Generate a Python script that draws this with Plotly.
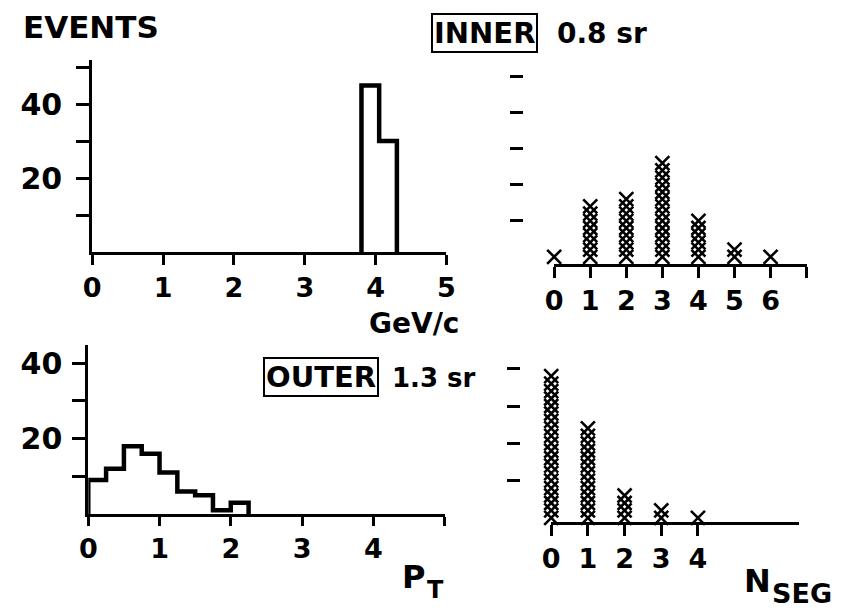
import plotly.graph_objects as go

# ---- data -------------------------------------------------------------
# transverse-momentum histograms (events per 0.25 GeV/c bin)
inner_pt_edges = [3.8, 4.05, 4.3]
inner_pt_counts = [45, 30]
outer_pt_edges = [0.0, 0.25, 0.5, 0.75, 1.0, 1.25, 1.5, 1.75, 2.0, 2.25]
outer_pt_counts = [9, 12, 18, 16, 11, 6, 5, 1, 3]

# segment-multiplicity distributions: number of crosses stacked per N_SEG
inner_nseg = [0, 1, 2, 3, 4, 5, 6]
inner_nseg_crosses = [1, 8, 9, 14, 6, 2, 1]
outer_nseg = [0, 1, 2, 3, 4]
outer_nseg_crosses = [20, 13, 4, 2, 1]

pt_ticks = [1, 2, 3, 4, 5]
event_ticks = [10, 20, 30, 40, 50]
event_ticktext = ["", "20", "", "40", ""]

W, H = 846, 616
FONT = "DejaVu Sans"
INK = "black"


def px(x):
    return x / W


def py(y):
    return 1 - y / H


def bold(s):
    return "<b>" + s + "</b>"


def step_outline(edges, counts):
    xs = [edges[0]] + list(edges[:-1]) + [edges[-1]]
    ys = [0] + list(counts) + [0]
    return xs, ys


def cross_stack(cols, n_crosses):
    xs, ys = [], []
    for c, n in zip(cols, n_crosses):
        for k in range(n):
            xs.append(c)
            ys.append(k)
    return xs, ys


fig = go.Figure()

# histograms
for edges, counts, ax in [(inner_pt_edges, inner_pt_counts, ("x", "y")),
                          (outer_pt_edges, outer_pt_counts, ("x2", "y2"))]:
    hx, hy = step_outline(edges, counts)
    fig.add_trace(go.Scatter(x=hx, y=hy, mode="lines", line_shape="hv",
                             line=dict(color=INK, width=4.5),
                             xaxis=ax[0], yaxis=ax[1], cliponaxis=False,
                             showlegend=False, hoverinfo="skip"))

# cross stacks
for cols, n, ax in [(inner_nseg, inner_nseg_crosses, ("x3", "y3")),
                    (outer_nseg, outer_nseg_crosses, ("x4", "y4"))]:
    cx, cy = cross_stack(cols, n)
    fig.add_trace(go.Scatter(x=cx, y=cy, mode="markers",
                             marker=dict(symbol="x-thin", size=14,
                                         line=dict(color=INK, width=2.6)),
                             xaxis=ax[0], yaxis=ax[1], cliponaxis=False,
                             showlegend=False, hoverinfo="skip"))

axis_common = dict(showgrid=False, zeroline=False, linecolor=INK, linewidth=3,
                   ticks="outside", tickcolor=INK, tickwidth=3,
                   tickfont=dict(family=FONT, size=27, color=INK, weight="bold"),
                   fixedrange=True)
ytickfont = dict(family=FONT, size=30, color=INK, weight="bold")

inner_top = -1 + (264 - 60) / 7.2
outer_top = -0.55 + (522 - 345) / 7.46

fig.update_layout(
    # top-left: inner p_T
    xaxis=dict(axis_common, domain=[px(85), px(447)], range=[0, 5], anchor="y",
               tickvals=[0] + pt_ticks, ticktext=["0", "1", "2", "3", "4", "5"],
               ticklen=10, showline=True, ticklabelstandoff=0),
    yaxis=dict(axis_common, domain=[py(252), py(60)], range=[0, (252 - 60) / 3.7],
               anchor="x", tickvals=event_ticks, ticktext=event_ticktext,
               ticklen=13, showline=True, ticklabelstandoff=8, tickfont=ytickfont),
    # bottom-left: outer p_T
    xaxis2=dict(axis_common, domain=[px(81), px(445)], range=[0, 5], anchor="y2",
                tickvals=[0] + pt_ticks, ticktext=["0", "1", "2", "3", "4", ""],
                ticklen=9, showline=True, ticklabelstandoff=0),
    yaxis2=dict(axis_common, domain=[py(514), py(345)], range=[0, (514 - 345) / 3.77],
                anchor="x2", tickvals=event_ticks[:4], ticktext=event_ticktext[:4],
                ticklen=13, showline=True, ticklabelstandoff=4, tickfont=ytickfont),
    # top-right: inner N_SEG
    xaxis3=dict(axis_common, domain=[px(557), px(815)], range=[0, 7], anchor="y3",
                tickvals=inner_nseg + [7], ticktext=[str(v) for v in inner_nseg] + [""],
                ticklen=11, showline=True, ticklabelstandoff=0),
    yaxis3=dict(axis_common, domain=[py(264), py(60)], range=[-1, inner_top],
                anchor="x3", showline=False, ticks="", showticklabels=False),
    yaxis5=dict(axis_common, overlaying="y3", anchor="free", position=px(525),
                range=[-1, inner_top], tickvals=[5, 10, 15, 20, 25],
                ticklen=13, showline=False, showticklabels=False),
    # bottom-right: outer N_SEG
    xaxis4=dict(axis_common, domain=[px(554), px(807)], range=[0, 6.75], anchor="y4",
                tickvals=outer_nseg, ticktext=[str(v) for v in outer_nseg],
                ticklen=11, showline=True, ticklabelstandoff=0),
    yaxis4=dict(axis_common, domain=[py(522), py(345)], range=[-0.55, outer_top],
                anchor="x4", showline=False, ticks="", showticklabels=False),
    yaxis6=dict(axis_common, overlaying="y4", anchor="free", position=px(522),
                range=[-0.55, outer_top], tickvals=[5, 10, 15, 20],
                ticklen=13, showline=False, showticklabels=False),
)

# an empty trace on each dash axis so it is drawn
for ya, xa in [("y5", "x3"), ("y6", "x4")]:
    fig.add_trace(go.Scatter(x=[None], y=[None], xaxis=xa, yaxis=ya,
                             showlegend=False, hoverinfo="skip"))


def label(text, x, y, size, box=False):
    d = dict(text=bold(text), x=px(x), y=py(y), xref="paper", yref="paper",
             xanchor="center", yanchor="middle", showarrow=False,
             font=dict(family=FONT, size=size, color=INK))
    if box:
        d.update(bordercolor=INK, borderwidth=2, borderpad=1)
    return d


fig.update_layout(
    annotations=[
        label("EVENTS", 84, 27, 31),
        label("INNER", 486, 33, 29, box=True),
        label("0.8 sr", 606, 33, 28),
        label("GeV/c", 414, 323, 28),
        label("OUTER", 319, 377, 29, box=True),
        label("1.3 sr", 434, 378, 26),
        label("P", 413, 577, 32),
        label("T", 436, 590, 24),
        label("N", 765, 581, 32),
        label("SEG", 810, 593, 27),
    ],
    width=W, height=H,
    margin=dict(l=0, r=0, t=0, b=0),
    paper_bgcolor="white", plot_bgcolor="white",
    showlegend=False,
)

fig.write_html("out.html", config={"displayModeBar": False})
